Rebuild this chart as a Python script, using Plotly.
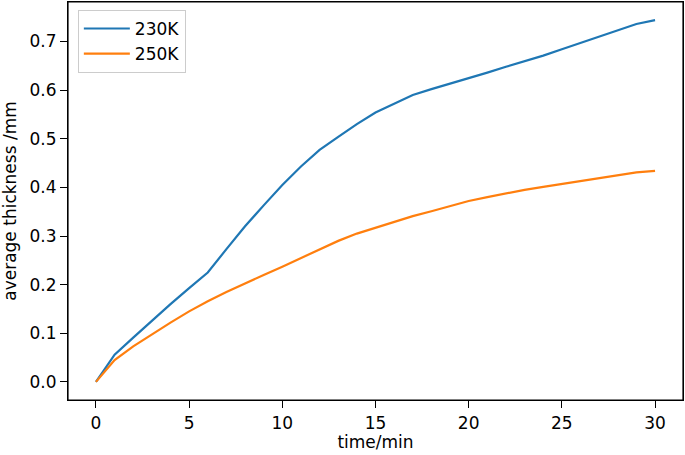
import plotly.graph_objects as go

time_min = list(range(0, 31))
thick_230K = [0.0, 0.056, 0.091, 0.126, 0.16, 0.193, 0.225, 0.273, 0.32, 0.363, 0.405, 0.443, 0.477, 0.504, 0.53, 0.554,
              0.572, 0.59, 0.602, 0.613, 0.625, 0.636, 0.648, 0.659, 0.671, 0.684, 0.697, 0.71, 0.722, 0.736, 0.744]
thick_250K = [0.0, 0.045, 0.073, 0.098, 0.122, 0.145, 0.166, 0.185, 0.203, 0.22, 0.237, 0.255, 0.272, 0.29, 0.305, 0.317,
              0.33, 0.341, 0.351, 0.361, 0.372, 0.38, 0.388, 0.395, 0.401, 0.407, 0.413, 0.419, 0.425, 0.431, 0.434]
series_names = ["230K", "250K"]
x_ticks = [0, 5, 10, 15, 20, 25, 30]
y_ticks = [0.0, 0.1, 0.2, 0.3, 0.4, 0.5, 0.6, 0.7]

fig = go.Figure()
fig.add_trace(go.Scatter(x=time_min, y=thick_230K, mode="lines", name=series_names[0],
                         line=dict(color="#1f77b4", width=2.2)))
fig.add_trace(go.Scatter(x=time_min, y=thick_250K, mode="lines", name=series_names[1],
                         line=dict(color="#ff7f0e", width=2.2)))

font = dict(family="DejaVu Sans", size=17, color="black")
fig.update_layout(
    width=685, height=455,
    margin=dict(l=68, r=2, t=2, b=55),
    plot_bgcolor="white", paper_bgcolor="white",
    font=font,
    showlegend=True,
    legend=dict(x=0.016, y=0.98, xanchor="left", yanchor="top", itemwidth=46,
                bgcolor="rgba(255,255,255,0.8)", bordercolor="#cccccc", borderwidth=1,
                font=dict(family="DejaVu Sans", size=17, color="black"), tracegroupgap=4),
    shapes=[dict(type="rect", xref="paper", yref="paper", x0=0, x1=1, y0=0, y1=1,
                 line=dict(color="black", width=1.2), layer="below")],
)
fig.update_xaxes(range=[-1.5, 31.5], tickvals=x_ticks, ticks="outside", ticklen=7, tickcolor="black",
                 showline=True, linecolor="black", linewidth=1.2, mirror=True, showgrid=False, zeroline=False,
                 title=dict(text="time/min", font=font, standoff=4))
fig.update_yaxes(range=[-0.0372, 0.7812], tickvals=y_ticks, tickformat=".1f", ticks="outside", ticklen=7,
                 tickcolor="black", showline=True, linecolor="black", linewidth=1.2, mirror=True,
                 showgrid=False, zeroline=False,
                 title=dict(text="average thickness /mm", font=font, standoff=8))

fig.write_html("out.html", config={"displayModeBar": False},
               post_script="document.body.style.margin='0';document.body.style.overflow='hidden';")
